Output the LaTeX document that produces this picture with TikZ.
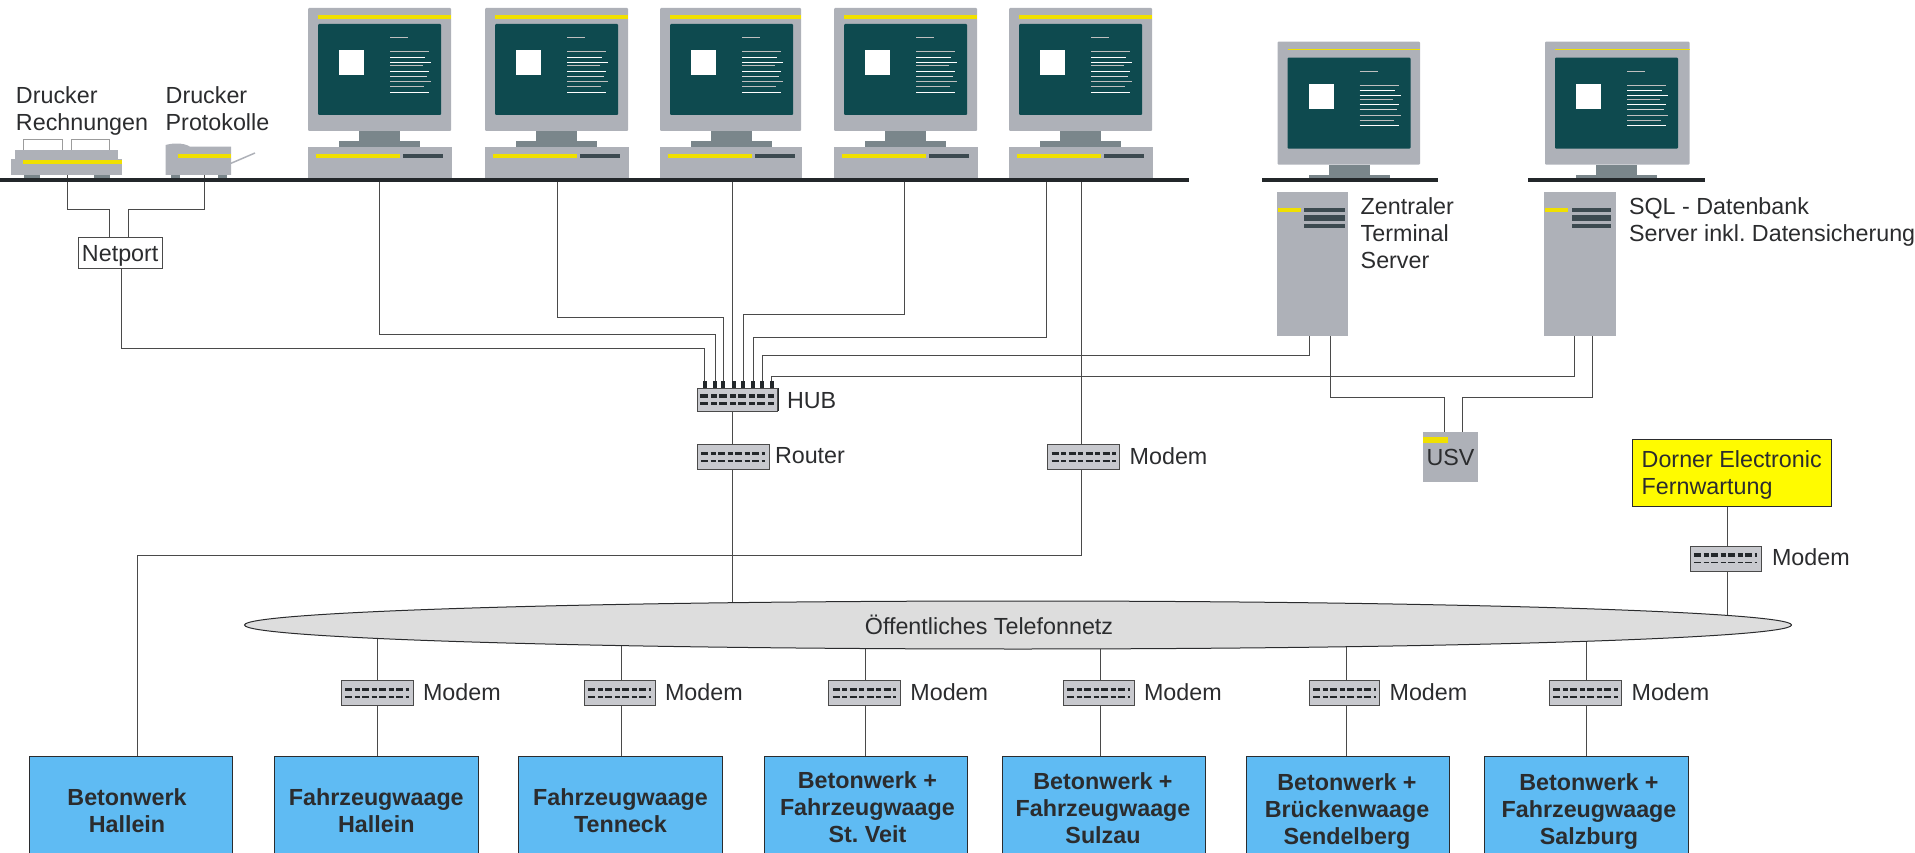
\documentclass[tikz,border=0pt]{standalone}
\usepackage{fontspec}
\setmainfont{Liberation Sans}
\usetikzlibrary{positioning,backgrounds,shapes.geometric}
\frenchspacing

\definecolor{casegray}{HTML}{AEB1B8}
\definecolor{neckgray}{HTML}{7A868B}
\definecolor{screengreen}{HTML}{0E4A4F}
\definecolor{stripeyellow}{HTML}{F0E000}
\definecolor{banddark}{HTML}{3C4A50}
\definecolor{shelfdark}{HTML}{23272A}
\definecolor{inkdark}{HTML}{2B2C2E}
\definecolor{wiredark}{HTML}{4A4A4A}
\definecolor{modemgray}{HTML}{C8C9CE}
\definecolor{siteblue}{HTML}{5FBBF3}
\definecolor{netgray}{HTML}{DDDDDD}
\definecolor{boxyellow}{HTML}{FFFB00}

\tikzset{
    every node/.style={inner sep=0pt, outer sep=0pt, text=inkdark, font=\fontsize{23.3}{27}\selectfont},
    wire/.style={draw=wiredark, line width=1pt},
    desktop/.style={fill=casegray, anchor=north west, minimum height=31pt},
    server/.style={fill=casegray, anchor=north west, minimum height=144pt},
    modembox/.style={draw=wiredark, fill=modemgray, line width=1pt, anchor=north west, minimum height=25pt},
    hubpin/.style={fill=shelfdark, anchor=north, minimum width=4pt, minimum height=7pt},
    rowthick/.style={draw=shelfdark, line width=3.5pt, dash pattern=on 7pt off 2.5pt on 5pt off 2.5pt},
    rowthin/.style={draw=shelfdark, line width=1.5pt, dash pattern=on 7pt off 2.5pt on 5pt off 2.5pt},
    site/.style={draw=inkdark, fill=siteblue, line width=1pt, anchor=north west, minimum height=110pt},
    sitetext/.style={align=center, font=\fontsize{23.3}{27}\selectfont\bfseries},
    devtext/.style={align=left},
}

\newcommand{\drawmonitor}[4]{
    \begin{scope}[shift={(#1,#2)}]
        \fill[casegray, rounded corners=1pt] (0,0) rectangle (#3,123);
        \fill[stripeyellow] (10,7) rectangle (#3,#4);
        \fill[screengreen, rounded corners=1pt] (10,16) rectangle (133,107);
        \fill[white] (31,42) rectangle (56,67);
        \fill[neckgray] (51,123) rectangle (92,135);
        \fill[neckgray] (31,133.5) rectangle (112,139);
        \foreach \y/\l/\c in {30/18/gray!50,44/39/gray!50,49.3/35/white,54.3/41/white,58/33/gray!50,63.3/39/white,68.3/37/white!70!gray,73.7/41/gray!50,79/34/gray!50,84.3/39/white}
            \draw[\c, line width=1pt] (82,\y) -- +(\l,0);
    \end{scope}
}

\newcommand{\drawmodem}[4]{
    \node[modembox, minimum width=#4 pt] (#1) at (#2,#3) {};
    \draw[rowthick] (#2+4,#3+9) -- +(#4-8,0);
    \draw[rowthin] (#2+4,#3+16.5) -- +(#4-8,0);
}

\begin{document}
\begin{tikzpicture}[x=1pt, y=-1pt]
    \useasboundingbox (0,0) rectangle (1915,853);

    \foreach \n/\x/\w/\t in {A/308/144/379.5,B/485/144/557,C/660/142/732.3,D/834/144/904,E/1009/144/1046} {
        \drawmonitor{\x}{8}{\w-1}{11}
        \node[desktop, minimum width=\w pt] (pc\n) at (\x,147) {};
        \fill[stripeyellow] (\x+7.5,154) rectangle (\x+91.5,158);
        \fill[banddark] (\x+95,154) rectangle (\x+135,158);
        \coordinate (tap\n) at (\t,178);
    }
    \coordinate (tapModem) at (1081.3,178);

    \drawmonitor{1277.5}{41.7}{142.5}{8.5}
    \drawmonitor{1545}{41.7}{144.5}{8.5}
    \fill[shelfdark] (0,178) rectangle (1189,182);
    \fill[shelfdark] (1262,178) rectangle (1438,182);
    \fill[shelfdark] (1528,178) rectangle (1705,182);

    \fill[neckgray] (24,174.7) rectangle (40,178);
    \fill[neckgray] (94,174.7) rectangle (110,178);
    \fill[neckgray] (171,174.7) rectangle (180,178);
    \fill[neckgray] (218,174.7) rectangle (227,178);
    \draw[draw=gray!70!black!60, fill=white, line width=.8pt] (23.3,150) -- (23.3,139.5) -- (62.3,139.5) -- (62.3,150);
    \draw[draw=gray!70!black!60, fill=white, line width=.8pt] (71,150) -- (71,139.5) -- (109.7,139.5) -- (109.7,150);
    \fill[casegray] (15,150.3) rectangle (118.3,160);
    \node[fill=casegray, anchor=north west, minimum width=110.7pt, minimum height=15.4pt] (printerA) at (11.3,159.3) {};
    \fill[stripeyellow] (23,160) rectangle (122,164);
    \coordinate (tapPrinterA) at (67.3,175);
    \fill[casegray] (165.7,175) -- (165.7,145) .. controls (172,143) and (184,142.5) .. (190,146.7) -- (231,146.7) -- (231,175) -- cycle;
    \node[anchor=north west, minimum width=65pt, minimum height=28pt] (printerB) at (166,147) {};
    \fill[stripeyellow] (178,154) rectangle (231,158);
    \draw[casegray, line width=1.5pt] (printerB.east |- 0,163.3) -- (255,153);
    \coordinate (tapPrinterB) at (204.3,175);

    \node[devtext, anchor=west] (textPrinterA) at (16,110.9) {Drucker\\Rechnungen};
    \node[devtext, anchor=west] (textPrinterB) at (165.7,108.5) {Drucker\\Protokolle};

    \node[draw=wiredark, fill=white, line width=1pt, text depth=0pt, minimum width=84pt, minimum height=31pt] (netport) at (120.2,253.3) {Netport};
    \coordinate (netOut) at (121.7,269);
    \coordinate (netInA) at (109.7,238);
    \coordinate (netInB) at (128.7,238);

    \node[server, minimum width=71pt] (srvA) at (1277,192) {};
    \node[server, minimum width=72pt] (srvB) at (1544,192) {};
    \foreach \x/\a/\b in {1277/1304/1345,1544/1572/1611} {
        \fill[stripeyellow] (\x+1,208) rectangle (\x+24,212);
        \fill[banddark] (\a,208) rectangle (\b,212);
        \fill[banddark] (\a,215) rectangle (\b,221);
        \fill[banddark] (\a,224) rectangle (\b,228);
    }
    \coordinate (tapSrvA) at (1309.4,336);
    \coordinate (tapSrvAUps) at (1330,336);
    \coordinate (tapSrvB) at (1574.5,336);
    \coordinate (tapSrvBUps) at (1592,336);
    \node[devtext, anchor=north west] (textSrvA) at (1360.7,197.6) {Zentraler\\Terminal\\Server};
    \node[devtext, anchor=north west] (textSrvB) at (1629,197.6) {SQL - Datenbank\\Server inkl. Datensicherung};

    \node[fill=casegray, minimum width=55pt, minimum height=50pt] (usv) at (1450.5,457) {USV};
    \fill[stripeyellow] (1423,437) rectangle (1448,443);
    \coordinate (usvInA) at (1444.7,432);
    \coordinate (usvInB) at (1462,432);

    \node[fill=modemgray, draw=wiredark, line width=1pt, anchor=north west, minimum width=80pt, minimum height=23pt] (hub) at (697,388) {};
    \draw[draw=shelfdark, line width=3.5pt, dash pattern=on 8pt off 3pt on 6pt off 2pt] (700,396) -- (775,396);
    \draw[draw=shelfdark, line width=3.5pt, dash pattern=on 8pt off 3pt on 6pt off 2pt] (700,403.7) -- (775,403.7);
    \draw[draw=shelfdark, line width=1pt] ([xshift=1.5pt]hub.north east) -- ([xshift=1.5pt]hub.south east);
    \foreach \n/\x in {A/704.5,B/715,C/723,D/733.7,E/743,F/753,G/762,H/771.7}
        \node[hubpin] (pin\n) at (\x,381) {};
    \node[devtext, right=10pt of hub, yshift=-1pt] (textHub) {HUB};

    \drawmodem{router}{697}{444.3}{72}
    \node[devtext, right=6pt of router, yshift=1pt] (textRouter) {Router};
    \drawmodem{modemTop}{1047.7}{444.3}{72}
    \node[devtext, right=10pt of modemTop, yshift=1pt] (textModemTop) {Modem};

    \node[draw=inkdark, fill=boxyellow, line width=1pt, align=left, text depth=0pt, minimum width=199.4pt, minimum height=66.7pt] (dorner) at (1731.7,472.7) {Dorner Electronic\\Fernwartung};
    \coordinate (tapDorner) at (1727.5,506);
    \drawmodem{modemDorner}{1690}{546}{71}
    \node[devtext, right=11pt of modemDorner, yshift=1.5pt] (textModemDorner) {Modem};

    \node[ellipse, draw=inkdark, fill=netgray, line width=1pt, minimum width=1547pt, minimum height=48pt] (net) at (1018,625) {};
    \node (textNet) at (989,625) {Öffentliches Telefonnetz};

    \node[site, minimum width=203.6pt] (siteA) at (29,756) {};
    \node[sitetext] (textSiteA) at (127,810.5) {Betonwerk\\Hallein};
    \coordinate (wireA) at (137.5,756);

    \foreach \n/\bx/\bw/\wx/\mx/\mw/\tx/\ty/\txt in {
        B/274.5/203.5/377.7/341/72/376.3/810.5/{Fahrzeugwaage\\Hallein},
        C/518/204/621.4/584.4/70.6/620.5/810.5/{Fahrzeugwaage\\Tenneck},
        D/764/203/865.6/828.6/71.8/867.4/807.5/{Betonwerk +\\Fahrzeugwaage\\St. Veit},
        E/1002.7/203.1/1100.4/1063/71/1103/808/{Betonwerk +\\Fahrzeugwaage\\Sulzau},
        F/1246/203.4/1346/1309/70.6/1347/811.5/{Betonwerk +\\Brückenwaage\\Sendelberg},
        G/1484.7/203.3/1586/1549.4/72.2/1589/811.5/{Betonwerk +\\Fahrzeugwaage\\Salzburg}} {
        \node[site, minimum width=\bw pt] (site\n) at (\bx,756) {};
        \node[sitetext] (textSite\n) at (\tx,\ty) {\txt};
        \coordinate (wire\n) at (\wx,756);
        \drawmodem{modem\n}{\mx}{680.7}{\mw}
        \node[devtext, right=10pt of modem\n, yshift=1pt] (textModem\n) {Modem};
    }

    \begin{scope}[on background layer]
        \draw[wire] (tapPrinterA) |- (netInA |- 0,209.7) -- (netInA);
        \draw[wire] (tapPrinterB) |- (netInB |- 0,209.7) -- (netInB);
        \foreach \from/\pin/\level in {netOut/pinA/348,tapA/pinB/334,tapB/pinC/317,tapD/pinE/314.5,tapE/pinF/337.5,tapSrvA/pinG/355,tapSrvB/pinH/376}
            \draw[wire] (\from) |- (\pin |- 0,\level) -- (\pin);
        \draw[wire] (tapC) -- (tapC |- hub);
        \draw[wire] (tapC |- hub) -- (tapC |- router);
        \draw[wire] (tapC |- router) -- (tapC |- net);
        \draw[wire] (tapModem) -- (tapModem |- modemTop);
        \draw[wire] (tapModem |- modemTop) |- (wireA |- 0,555) -- (wireA |- siteA);
        \draw[wire] (tapSrvAUps) |- (usvInA |- 0,397) -- (usvInA);
        \draw[wire] (tapSrvBUps) |- (usvInB |- 0,397) -- (usvInB);
        \draw[wire] (tapDorner) -- (tapDorner |- modemDorner);
        \draw[wire] (tapDorner |- modemDorner) -- (tapDorner |- net);
        \foreach \n in {B,C,D,E,F,G} {
            \draw[wire] (wire\n |- net) -- (wire\n |- modem\n);
            \draw[wire] (wire\n |- modem\n) -- (wire\n);
        }
    \end{scope}
\end{tikzpicture}
\end{document}
